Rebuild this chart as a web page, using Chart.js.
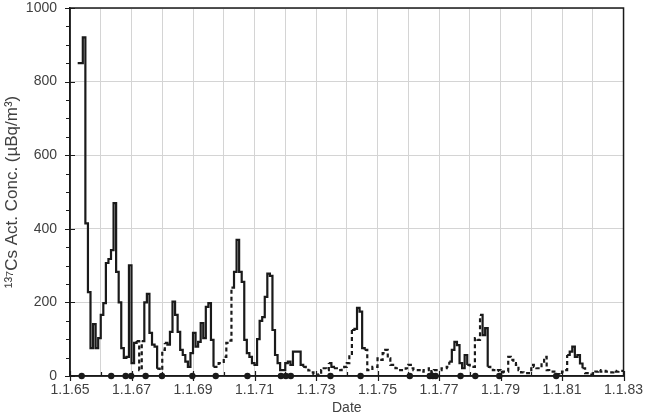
<!DOCTYPE html>
<html>
<head>
<meta charset="utf-8">
<script src="https://cdn.jsdelivr.net/npm/chart.js@4.4.1/dist/chart.umd.min.js"></script>
<style>
html,body{margin:0;padding:0;background:#fff;}
canvas{display:block;}
</style>
</head>
<body>
<canvas id="c" width="649" height="420"></canvas>
<script>
// ---- data (monthly 137Cs activity concentration, µBq/m³) ----
const startYear = 1965;
const conc1965 = [null, null, null, 850, 850, 920, 415, 228, 76, 141, 76, 103];
const conc1966 = [166, 198, 307, 318, 342, 470, 283, 200, 76, 49, 52, 301];
const conc1967 = [35, 90, 95, 16, 95, 200, 223, 117, 85, 80, 20, 16];
const conc1968 = [71, 90, 85, 120, 202, 166, 120, 71, 57, 39, 25, 62];
const conc1969 = [117, 80, 93, 144, 103, 188, 198, 98, 25, 25, 35, 38];
const conc1970 = [52, 90, 96, 240, 283, 370, 283, 256, 98, 62, 52, 35];
const conc1971 = [30, 100, 150, 160, 215, 278, 272, 125, 57, 35, 16, 16];
const conc1972 = [35, 39, 30, 66, 66, 66, 30, 25, 20, 15, 10, 5];
const conc1973 = [2, 5, 16, 21, 16, 35, 25, 21, 21, 16, 20, 25];
const conc1974 = [35, 57, 125, 128, 185, 175, 76, 71, 16, 16, 25, 25];
const conc1975 = [48, 44, 62, 71, 48, 30, 30, 21, 16, 16, 16, 21];
const conc1976 = [30, 21, 16, 16, 16, 12, 16, 16, 21, 10, 16, 16];
const conc1977 = [16, 21, 21, 25, 39, 71, 93, 84, 35, 21, 57, 30];
const conc1978 = [25, 25, 103, 98, 166, 111, 130, 25, 21, 16, 14, 16];
const conc1979 = [10, 12, 12, 52, 44, 35, 30, 16, 10, 8, 8, 8];
const conc1980 = [30, 25, 21, 21, 39, 52, 16, 12, 12, 8, 5, 4];
const conc1981 = [12, 16, 57, 66, 80, 52, 57, 34, 21, 8, 8, 4];
const conc1982 = [8, 12, 16, 12, 14, 12, 10, 10, 14, 12, 14, 14];

// month indices (from Jan 1965 = 0) drawn with the dashed line
const dashedRanges = [[26, 27], [34, 36], [56, 62], [91, 100], [103, 109], [115, 147], [155, 159], [163, 193], [200, 215]];

// dates of the events marked with dots on the zero line (decimal years)
const eventDates = [1965.38, 1966.34, 1966.81, 1966.99, 1967.46, 1967.99, 1968.98, 1969.74, 1970.77,
  1971.86, 1972.02, 1972.18, 1973.47, 1974.45, 1976.05, 1976.70, 1976.80, 1976.89,
  1977.70, 1978.18, 1978.96, 1980.81];

const xTickYears = [1965, 1967, 1969, 1971, 1973, 1975, 1977, 1979, 1981, 1983];
const xTickLabels = ['1.1.65', '1.1.67', '1.1.69', '1.1.71', '1.1.73', '1.1.75', '1.1.77', '1.1.79', '1.1.81', '1.1.83'];
const yTickLabels = ['0', '200', '400', '600', '800', '1000'];

// ---- build chart data ----
const yearly = [conc1965, conc1966, conc1967, conc1968, conc1969, conc1970, conc1971, conc1972, conc1973,
  conc1974, conc1975, conc1976, conc1977, conc1978, conc1979, conc1980, conc1981, conc1982];
const monthly = yearly.flat();
monthly.push(conc1982[conc1982.length - 1]); // closes the last step at 1.1.83
const seriesPoints = monthly.map((v, i) => ({ x: startYear + i / 12, y: v }));
const eventPoints = eventDates.map(d => ({ x: d, y: 0 }));
const isDashed = i => dashedRanges.some(([a, b]) => i >= a && i <= b);

const INK = '#1a1a1a';
const TXT = '#404040';
Chart.defaults.font.family = '"Liberation Sans", Arial, sans-serif';
Chart.defaults.font.size = 14;
Chart.defaults.color = TXT;

const framePlugin = {
  id: 'frame',
  afterDraw(chart) {
    const { ctx, chartArea: a, scales } = chart;
    ctx.save();
    ctx.strokeStyle = INK;
    ctx.lineWidth = 1.5;
    ctx.strokeRect(a.left, a.top, a.right - a.left, a.bottom - a.top);
    ctx.lineWidth = 1.2;
    ctx.beginPath();
    for (let v = 0; v <= 1000; v += 50) {
      const y = Math.round(scales.y.getPixelForValue(v)) + 0.5;
      if (v % 200 === 0) { ctx.moveTo(a.left - 5, y); ctx.lineTo(a.left + 5, y); }
      else { ctx.moveTo(a.left - 4, y); ctx.lineTo(a.left, y); }
    }
    for (let yr = 1965; yr <= 1983; yr++) {
      const x = Math.round(scales.x.getPixelForValue(yr)) + 0.5;
      if ((yr - 1965) % 2 === 0) { ctx.moveTo(x, a.bottom - 5); ctx.lineTo(x, a.bottom + 5); }
      else { ctx.moveTo(x, a.bottom - 4); ctx.lineTo(x, a.bottom); }
    }
    ctx.stroke();
    ctx.restore();
  }
};

new Chart(document.getElementById('c'), {
  type: 'line',
  data: {
    datasets: [
      {
        label: 'events',
        data: eventPoints,
        showLine: false,
        pointRadius: 3.2,
        pointBackgroundColor: INK,
        pointBorderColor: INK,
        pointBorderWidth: 0,
        clip: false,
        order: 0
      },
      {
        label: '137Cs',
        data: seriesPoints,
        borderColor: INK,
        borderWidth: 2.2,
        pointRadius: 0,
        stepped: 'before',
        spanGaps: false,
        fill: false,
        segment: {
          borderDash: ctx => isDashed(ctx.p0DataIndex) ? [4, 3] : []
        },
        order: 1
      }
    ]
  },
  options: {
    responsive: false,
    animation: false,
    devicePixelRatio: 1,
    layout: { autoPadding: false, padding: { left: 0, right: 17, top: 8, bottom: 3 } },
    plugins: { legend: { display: false }, tooltip: { enabled: false } },
    scales: {
      x: {
        type: 'linear',
        min: 1965,
        max: 1983,
        afterBuildTicks: s => { s.ticks = []; for (let yr = 1965; yr <= 1983; yr++) s.ticks.push({ value: yr }); },
        afterFit: s => { s.height = 41; },
        ticks: {
          autoSkip: false, maxRotation: 0, padding: 6, color: TXT,
          callback: v => { const k = xTickYears.indexOf(v); return k >= 0 ? xTickLabels[k] : ''; }
        },
        grid: { color: '#d4d4d4', lineWidth: 1, drawTicks: false },
        border: { display: true, color: INK, width: 1.5 },
        title: { display: true, text: 'Date', color: TXT, font: { size: 14 }, padding: { top: 0, bottom: 0 } }
      },
      y: {
        min: 0,
        max: 1000,
        afterBuildTicks: s => { s.ticks = []; for (let v = 0; v <= 1000; v += 200) s.ticks.push({ value: v }); },
        afterFit: s => { s.width = 70; s.paddingTop = 0; s.paddingBottom = 0; },
        ticks: {
          autoSkip: false, padding: 13, color: TXT,
          callback: v => yTickLabels[Math.round(v / 200)]
        },
        grid: { color: '#d4d4d4', lineWidth: 1, drawTicks: false },
        border: { display: true, color: INK, width: 1.5 },
        title: { display: true, text: '¹³⁷Cs Act. Conc. (µBq/m³)', color: TXT, font: { size: 17 }, padding: { top: 2, bottom: 2 } }
      }
    }
  },
  plugins: [framePlugin]
});
</script>
</body>
</html>
